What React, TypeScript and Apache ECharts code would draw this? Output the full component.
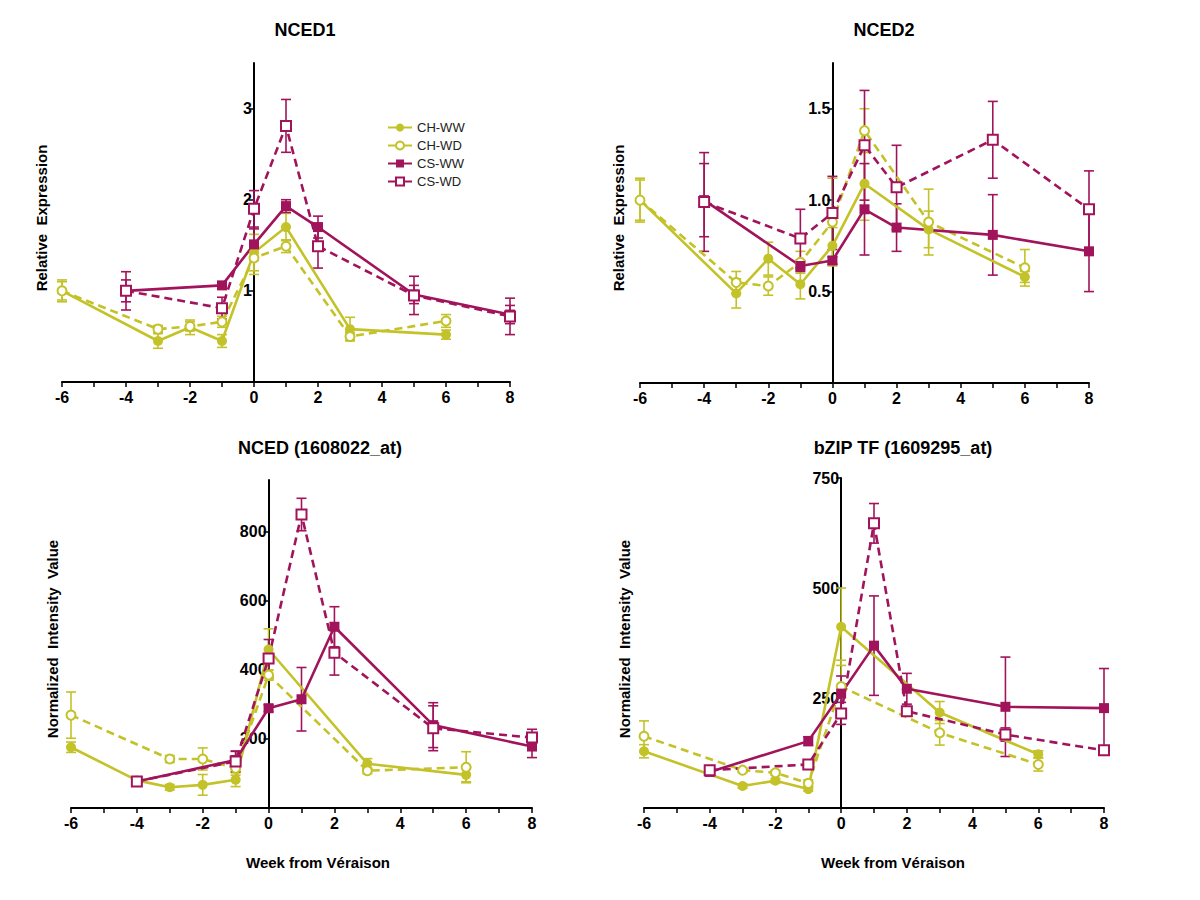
import React, { useEffect, useRef } from "react";
import * as echarts from "echarts";

// ---------- data ----------
const seriesNames = ["CH-WW", "CH-WD", "CS-WW", "CS-WD"];
const weeksTicks = [-6, -5, -4, -3, -2, -1, 0, 1, 2, 3, 4, 5, 6, 7, 8];
const weeksLabels = [-6, -4, -2, 0, 2, 4, 6, 8];
const weekMin = -6;
const weekMax = 8;

const weekCH12 = [-6, -3, -2, -1, 0, 1, 3, 6];
const weekCH34 = [-6, -3, -2, -1, 0, 3, 6];
const weekCH3ww = [-6, -4, -3, -2, -1, 0, 3, 6];
const weekCS = [-4, -1, 0, 1, 2, 5, 8];

// NCED1
const n1ChWW = [1.0, 0.45, 0.6, 0.45, 1.42, 1.7, 0.58, 0.52];
const n1ChWWErr = [0.12, 0.08, 0.08, 0.07, 0.2, 0.15, 0.13, 0.05];
const n1ChWD = [1.0, 0.58, 0.61, 0.66, 1.36, 1.49, 0.5, 0.67];
const n1ChWDErr = [0.1, 0.04, 0.05, 0.06, 0.18, 0.07, 0.04, 0.07];
const n1CsWW = [1.0, 1.06, 1.51, 1.93, 1.7, 0.96, 0.74];
const n1CsWWErr = [0.21, 0.04, 0.17, 0.07, 0.12, 0.1, 0.1];
const n1CsWD = [1.0, 0.81, 1.9, 2.81, 1.49, 0.95, 0.72];
const n1CsWDErr = [0.12, 0.12, 0.2, 0.29, 0.24, 0.21, 0.2];

// NCED2
const n2ChWW = [1.0, 0.49, 0.68, 0.54, 0.75, 1.09, 0.84, 0.58];
const n2ChWWErr = [0.12, 0.08, 0.09, 0.08, 0.1, 0.2, 0.1, 0.03];
const n2ChWD = [1.0, 0.55, 0.53, 0.66, 0.88, 1.38, 0.88, 0.63];
const n2ChWDErr = [0.11, 0.06, 0.05, 0.06, 0.24, 0.12, 0.18, 0.1];
const n2CsWW = [1.0, 0.64, 0.67, 0.95, 0.85, 0.81, 0.72];
const n2CsWWErr = [0.2, 0.03, 0.02, 0.25, 0.13, 0.22, 0.22];
const n2CsWD = [0.99, 0.79, 0.93, 1.3, 1.07, 1.33, 0.95];
const n2CsWDErr = [0.27, 0.16, 0.2, 0.3, 0.23, 0.21, 0.21];

// NCED (1608022_at)
const n3ChWW = [176, 80, 60, 67, 82, 459, 128, 96];
const n3ChWWErr = [15, 0, 8, 30, 20, 60, 15, 20];
const n3ChWD = [269, 142, 142, 115, 385, 108, 118];
const n3ChWDErr = [67, 10, 32, 20, 15, 8, 45];
const n3CsWW = [77, 139, 289, 315, 525, 240, 178];
const n3CsWWErr = [12, 25, 10, 92, 58, 65, 32];
const n3CsWD = [77, 135, 433, 850, 450, 231, 204];
const n3CsWDErr = [10, 30, 55, 47, 65, 65, 24];

// bZIP TF (1609295_at)
const n4ChWW = [129, 50, 62, 43, 412, 217, 122];
const n4ChWWErr = [15, 5, 5, 5, 88, 25, 8];
const n4ChWD = [163, 86, 80, 56, 276, 171, 99];
const n4ChWDErr = [35, 5, 5, 8, 60, 28, 15];
const n4CsWW = [82, 152, 260, 369, 271, 230, 227];
const n4CsWWErr = [8, 10, 40, 113, 35, 113, 90];
const n4CsWD = [86, 99, 215, 647, 220, 167, 131];
const n4CsWDErr = [8, 8, 25, 45, 10, 15, 8];

const titles = ["NCED1", "NCED2", "NCED (1608022_at)", "bZIP TF (1609295_at)"];
const yNames = ["Relative  Expression", "Relative  Expression", "Normalized  Intensity  Value", "Normalized  Intensity  Value"];
const yMax = [3.5, 1.75, 950, 750];
const yLabels = [[1, 2, 3], [0.5, 1.0, 1.5], [200, 400, 600, 800], [250, 500, 750]];
const xName = "Week from Véraison";

// ---------- style ----------
const OLIVE = "#c3c228";
const MAROON = "#a1145b";
const grids = [
  { left: 62, top: 63, width: 448, height: 319 },
  { left: 640, top: 63, width: 449, height: 320 },
  { left: 71, top: 480, width: 461, height: 328 },
  { left: 644, top: 478, width: 460, height: 330 },
];
const titlePos = [[305, 30], [884, 30], [320, 448], [903, 448]];
const yNamePos = [[41, 218], [618, 218], [52, 639], [624, 639]];
const xNamePos = [[318, 862], [893, 862]];

const styles = [
  { color: OLIVE, symbol: "circle", size: 10, dashed: false },
  { color: OLIVE, symbol: "emptyCircle", size: 9, dashed: true },
  { color: MAROON, symbol: "rect", size: 10, dashed: false },
  { color: MAROON, symbol: "emptyRect", size: 10, dashed: true },
];

const panelData = [
  [
    [weekCH12, n1ChWW, n1ChWWErr],
    [weekCH12, n1ChWD, n1ChWDErr],
    [weekCS, n1CsWW, n1CsWWErr],
    [weekCS, n1CsWD, n1CsWDErr],
  ],
  [
    [weekCH12, n2ChWW, n2ChWWErr],
    [weekCH12, n2ChWD, n2ChWDErr],
    [weekCS, n2CsWW, n2CsWWErr],
    [weekCS, n2CsWD, n2CsWDErr],
  ],
  [
    [weekCH3ww, n3ChWW, n3ChWWErr],
    [weekCH34, n3ChWD, n3ChWDErr],
    [weekCS, n3CsWW, n3CsWWErr],
    [weekCS, n3CsWD, n3CsWDErr],
  ],
  [
    [weekCH34, n4ChWW, n4ChWWErr],
    [weekCH34, n4ChWD, n4ChWDErr],
    [weekCS, n4CsWW, n4CsWWErr],
    [weekCS, n4CsWD, n4CsWDErr],
  ],
];

const LABEL_FONT = "'Liberation Sans Narrow', 'Arial Narrow', 'Liberation Sans', Arial, sans-serif";
const TEXT_FONT = "'Liberation Sans', Arial, sans-serif";

function buildOption() {
  const series: any[] = [];
  panelData.forEach((panel, gi) => {
    panel.forEach(([weeks, vals, errs], si) => {
      const st = styles[si];
      const errData = weeks
        .map((w, i) => [w, vals[i] - errs[i], vals[i] + errs[i]])
        .filter((d, i) => errs[i] > 0);
      series.push({
        name: seriesNames[si] + " err",
        type: "custom",
        xAxisIndex: gi,
        yAxisIndex: gi,
        z: 1,
        silent: true,
        encode: { x: 0, y: [1, 2] },
        data: errData,
        renderItem: (params: any, api: any) => {
          const x = api.value(0);
          const lo = api.coord([x, api.value(1)]);
          const hi = api.coord([x, api.value(2)]);
          const w = 5;
          const s = { stroke: st.color, lineWidth: 1.6 };
          return {
            type: "group",
            children: [
              { type: "line", shape: { x1: lo[0], y1: lo[1], x2: hi[0], y2: hi[1] }, style: s },
              { type: "line", shape: { x1: lo[0] - w, y1: lo[1], x2: lo[0] + w, y2: lo[1] }, style: s },
              { type: "line", shape: { x1: hi[0] - w, y1: hi[1], x2: hi[0] + w, y2: hi[1] }, style: s },
            ],
          };
        },
      });
      series.push({
        name: seriesNames[si],
        type: "line",
        xAxisIndex: gi,
        yAxisIndex: gi,
        z: 3,
        data: weeks.map((w, i) => [w, vals[i]]),
        symbol: st.symbol,
        symbolSize: st.size,
        showAllSymbol: true,
        color: st.color,
        lineStyle: { color: st.color, width: 2.6, type: st.dashed ? [8, 5] : "solid" },
        itemStyle: { color: st.color, borderColor: st.color, borderWidth: st.symbol.startsWith("empty") ? 1.5 : 0 },
      });
    });
  });

  const xAxis = grids.map((_, gi) => ({
    type: "value",
    gridIndex: gi,
    min: weekMin,
    max: weekMax,
    interval: 1,
    splitLine: { show: false },
    axisLine: { show: true, onZero: false, lineStyle: { color: "#000", width: 2 } },
    axisTick: { show: true, length: 5, customValues: weeksTicks, lineStyle: { color: "#000", width: 1.5 } },
    axisLabel: {
      customValues: weeksLabels,
      color: "#000",
      fontFamily: LABEL_FONT,
      fontWeight: "bold",
      fontSize: 16,
      margin: 7,
    },
  }));

  // y axis drawn at week 0: shift it into the grid with a negative offset
  const yAxis = grids.map((g, gi) => ({
    type: "value",
    gridIndex: gi,
    min: 0,
    max: yMax[gi],
    position: "left",
    offset: -((0 - weekMin) / (weekMax - weekMin)) * g.width,
    splitLine: { show: false },
    axisLine: { show: true, onZero: false, lineStyle: { color: "#000", width: 2 } },
    axisTick: { show: true, length: 5, customValues: yLabels[gi], lineStyle: { color: "#000", width: 1.5 } },
    axisLabel: {
      customValues: yLabels[gi],
      formatter: (v: number) => (gi === 1 ? v.toFixed(1) : String(v)),
      color: "#000",
      fontFamily: LABEL_FONT,
      fontWeight: "bold",
      fontSize: 16,
      margin: 2,
    },
  }));

  const graphics: any[] = [];
  titles.forEach((t, i) => {
    graphics.push({
      type: "text",
      x: titlePos[i][0],
      y: titlePos[i][1],
      style: { text: t, font: `bold 18px ${TEXT_FONT}`, fill: "#000", textAlign: "center", textVerticalAlign: "middle" },
    });
  });
  yNames.forEach((t, i) => {
    graphics.push({
      type: "text",
      x: yNamePos[i][0],
      y: yNamePos[i][1],
      rotation: Math.PI / 2,
      style: { text: t, font: `bold 15px ${TEXT_FONT}`, fill: "#000", textAlign: "center", textVerticalAlign: "middle" },
    });
  });
  xNamePos.forEach((p) => {
    graphics.push({
      type: "text",
      x: p[0],
      y: p[1],
      style: { text: xName, font: `bold 15px ${TEXT_FONT}`, fill: "#000", textAlign: "center", textVerticalAlign: "middle" },
    });
  });

  return {
    animation: false,
    backgroundColor: "#fff",
    grid: grids.map((g) => ({ ...g, containLabel: false })),
    xAxis,
    yAxis,
    legend: {
      data: seriesNames,
      orient: "vertical",
      left: 382,
      top: 116,
      itemGap: 5,
      itemWidth: 24,
      itemHeight: 10,
      lineStyle: { type: "solid" },
      textStyle: { fontFamily: TEXT_FONT, fontSize: 13, color: "#222" },
    },
    graphic: graphics,
    series,
  };
}

export default function App() {
  const ref = useRef<HTMLDivElement>(null);
  useEffect(() => {
    if (!ref.current) return;
    const chart = echarts.init(ref.current, undefined, { renderer: "svg" });
    chart.setOption(buildOption() as any);
    return () => chart.dispose();
  }, []);
  return <div ref={ref} style={{ position: "fixed", left: 0, top: 0, width: 1200, height: 900 }} />;
}
